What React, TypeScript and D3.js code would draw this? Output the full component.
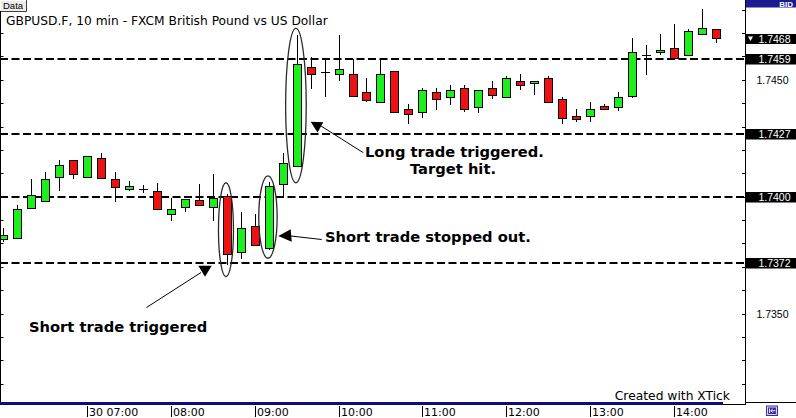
import React from "react";
import * as d3 from "d3";

// ---- data (10-minute candles, 30th 06:00 .. 14:30) ----
const startTime = new Date(2009, 0, 30, 6, 0);
const stepMinutes = 10;

const opens = [
  1.73821, 1.73824, 1.73955, 1.73985, 1.74085, 1.74158, 1.74085, 1.74166, 1.74077, 1.74036,
  1.74036, 1.74025, 1.73928, 1.73957, 1.73987, 1.73957, 1.74007, 1.73764, 1.73876, 1.73784,
  1.74055, 1.74135, 1.74558, 1.74537, 1.74526, 1.74527, 1.7445, 1.74406, 1.74538, 1.74376,
  1.74366, 1.74449, 1.74427, 1.74466, 1.74387, 1.74466, 1.74427, 1.74496, 1.74487, 1.74508,
  1.74419, 1.74346, 1.74346, 1.74389, 1.74387, 1.74434, 1.74608, 1.7462, 1.74637, 1.74607,
  1.74697, 1.74718,
];
const highs = [
  1.73868, 1.73967, 1.74077, 1.74108, 1.74159, 1.74158, 1.74175, 1.74188, 1.74108, 1.74068,
  1.74051, 1.7406, 1.73995, 1.73994, 1.74056, 1.74099, 1.74014, 1.73938, 1.73928, 1.74065,
  1.74188, 1.74694, 1.74598, 1.7459, 1.74694, 1.7459, 1.74508, 1.7459, 1.74538, 1.74398,
  1.74466, 1.74466, 1.74478, 1.74478, 1.74457, 1.74496, 1.74518, 1.74527, 1.74496, 1.74518,
  1.74427, 1.74376, 1.74406, 1.74397, 1.74449, 1.74679, 1.7465, 1.74698, 1.74741, 1.74718,
  1.74805, 1.74718,
];
const lows = [
  1.73809, 1.73824, 1.73955, 1.7398, 1.74028, 1.74079, 1.74085, 1.74079, 1.7398, 1.74028,
  1.74019, 1.73948, 1.739, 1.73937, 1.73965, 1.739, 1.7371, 1.73736, 1.73794, 1.73774,
  1.74002, 1.74135, 1.74461, 1.7443, 1.74498, 1.74433, 1.74408, 1.74406, 1.74366, 1.74312,
  1.7434, 1.74373, 1.74393, 1.74364, 1.74361, 1.74421, 1.74427, 1.7446, 1.74438, 1.74406,
  1.74312, 1.7432, 1.7432, 1.74376, 1.7437, 1.74423, 1.74521, 1.74609, 1.74597, 1.74607,
  1.74697, 1.74661,
];
const closes = [
  1.73838, 1.73948, 1.74008, 1.74077, 1.74136, 1.74098, 1.74175, 1.74083, 1.74045, 1.74047,
  1.74036, 1.73948, 1.73948, 1.73994, 1.73965, 1.73997, 1.73756, 1.73867, 1.73794, 1.74046,
  1.74145, 1.7457, 1.74526, 1.74537, 1.74547, 1.74433, 1.74416, 1.74527, 1.74366, 1.74358,
  1.74457, 1.74419, 1.74457, 1.74376, 1.74457, 1.74436, 1.74508, 1.74478, 1.74496, 1.74406,
  1.74337, 1.74336, 1.74376, 1.74376, 1.74427, 1.7462, 1.74608, 1.74628, 1.74597, 1.7471,
  1.74726, 1.74679,
];

const levelLines = [1.7459, 1.7427, 1.74, 1.7372];
const lastPrice = 1.7468;
const priceTickLabels = [1.745, 1.735];
const priceTicks = d3.range(17320, 17490, 10).map((v) => v / 10000);
const timeTickHours = [7, 8, 9, 10, 11, 12, 13, 14];
const timeTickLabels = ["30 07:00", "08:00", "09:00", "10:00", "11:00", "12:00", "13:00", "14:00"];

// ellipses around key candles: [candle index, top price, bottom price]
const ellipseCandles = [16, 19, 21];
const ellipseTops = [1.74062, 1.74091, 1.74722];
const ellipseBottoms = [1.7366, 1.73739, 1.74062];

const GREEN = "#1def1d";
const RED = "#ee1111";
const NAVY = "#0c0c7c";

export default function App() {
  const W = 796;
  const H = 418;
  const plotRight = 745.5;
  const plotBottom = 402;

  const timeAt = (i: number) => new Date(startTime.getTime() + i * stepMinutes * 60000);
  const x = d3
    .scaleTime()
    .domain([timeAt(0), timeAt(opens.length - 1)])
    .range([2.7, 716.3]);
  const y = d3.scaleLinear().domain([1.7372, 1.7459]).range([262.7, 59.3]);

  const fmt = d3.format(".4f");
  const r5 = (v: number) => Math.round(v - 0.5) + 0.5;

  const candles = opens.map((o, i) => {
    const c = closes[i];
    const cx = Math.round(x(timeAt(i)));
    const yTop = Math.round(y(Math.max(o, c)));
    const yBot = Math.round(y(Math.min(o, c)));
    return { i, o, c, h: highs[i], l: lows[i], cx, yTop, yBot };
  });

  const sans = "'DejaVu Sans', Verdana, sans-serif";
  const arial = "'Liberation Sans', Arial, sans-serif";

  return (
    <svg
      width={W}
      height={H}
      style={{ position: "absolute", left: 0, top: 0, background: "#fff" }}
    >
      <defs>
        <clipPath id="plotClip">
          <rect x={1} y={0} width={plotRight - 1} height={plotBottom} />
        </clipPath>
      </defs>
      <rect x={0} y={0} width={W} height={H} fill="#fff" />

      {/* left ticks */}
      {priceTicks.map((p) => (
        <line key={"lt" + p} x1={0} x2={3.5} y1={r5(y(p))} y2={r5(y(p))} stroke="#000" />
      ))}
      {/* right ticks */}
      {priceTicks.map((p) => (
        <line key={"rt" + p} x1={742} x2={plotRight} y1={r5(y(p))} y2={r5(y(p))} stroke="#000" />
      ))}

      {/* level dashed lines */}
      {levelLines.map((p) => (
        <line
          key={"lv" + p}
          x1={0}
          x2={plotRight}
          y1={Math.round(y(p))}
          y2={Math.round(y(p))}
          stroke="#000"
          strokeWidth={2}
          strokeDasharray="8,3.5"
        />
      ))}

      {/* candles */}
      <g clipPath="url(#plotClip)" shapeRendering="crispEdges">
        {candles.map((d) => (
          <g key={d.i}>
            <line
              x1={d.cx + 0.5}
              x2={d.cx + 0.5}
              y1={Math.round(y(d.h))}
              y2={Math.round(y(d.l))}
              stroke="#000"
            />
            {d.o === d.c ? (
              <line
                x1={d.cx - 4}
                x2={d.cx + 5}
                y1={d.yTop + 0.5}
                y2={d.yTop + 0.5}
                stroke="#000"
              />
            ) : (
              <rect
                x={d.cx - 3.5}
                y={d.yTop + 0.5}
                width={8}
                height={Math.max(1, d.yBot - d.yTop)}
                fill={d.c > d.o ? GREEN : RED}
                stroke="#000"
              />
            )}
          </g>
        ))}
      </g>

      {/* ellipses */}
      {ellipseCandles.map((ci, k) => {
        const yt = y(ellipseTops[k]);
        const yb = y(ellipseBottoms[k]);
        const rx = ci === 21 ? 10.3 : ci === 19 ? 9.2 : 7.5;
        return (
          <ellipse
            key={"el" + ci}
            cx={x(timeAt(ci)) - 0.6}
            cy={(yt + yb) / 2}
            rx={rx}
            ry={(yb - yt) / 2}
            fill="none"
            stroke="#2a2a2a"
            strokeWidth={1.3}
          />
        );
      })}

      {/* annotations */}
      <g fill="#000" stroke="none">
        <line x1={146.5} y1={307.5} x2={201} y2={272.5} stroke="#000" strokeWidth={1} />
        <polygon points="198.3,265.7 211.7,265.7 205,276.7" />
        <line x1={291} y1={236} x2={321.7} y2={239.5} stroke="#000" strokeWidth={1} />
        <polygon points="278.3,236 290.7,229.3 291.7,241.7" />
        <line x1={321} y1={126} x2={363.3} y2={152.7} stroke="#000" strokeWidth={1} />
        <polygon points="310.7,121.7 323.3,122.3 317.5,132.5" />
      </g>
      <g fontFamily={sans} fontWeight="bold" fontSize={14.7} fill="#000">
        <text x={29} y={331.5}>Short trade triggered</text>
        <text x={325} y={242.3}>Short trade stopped out.</text>
        <text x={365} y={156.5}>Long trade triggered.</text>
        <text x={410} y={174}>Target hit.</text>
      </g>

      {/* title */}
      <text x={6} y={25} fontFamily={sans} fontSize={12.25} fill="#000">
        GBPUSD.F, 10 min - FXCM British Pound vs US Dollar
      </text>

      {/* Data button */}
      <rect x={0} y={0} width={26.5} height={11} fill="#ececec" />
      <path d="M0.5,10.5 V0.5 H26" stroke="#fff" fill="none" />
      <path d="M0.5,11.5 H26.5 V0" stroke="#404040" fill="none" />
      <text x={3} y={9.3} fontFamily={arial} fontSize={9.5} fill="#000">
        Data
      </text>

      {/* left border */}
      <line x1={0.5} x2={0.5} y1={11} y2={plotBottom} stroke="#000" />

      {/* plot right border */}
      <line x1={plotRight} x2={plotRight} y1={0} y2={405} stroke="#000" />

      {/* right axis */}
      <rect x={746} y={0} width={50} height={7.5} fill="#1c1c90" />
      <text x={793} y={7} textAnchor="end" fontFamily={arial} fontWeight="bold" fontSize={8} fill="#fff">
        BID
      </text>
      {priceTickLabels.map((p) => (
        <text
          key={"pl" + p}
          x={788.5}
          y={y(p) + 3.8}
          textAnchor="end"
          fontFamily={arial}
          fontSize={10.5}
          fill="#000"
        >
          {fmt(p)}
        </text>
      ))}
      {levelLines.map((p) => (
        <g key={"lb" + p}>
          <rect x={746} y={Math.round(y(p)) - 5} width={50} height={10.5} fill="#000" />
          <text
            x={790.5}
            y={Math.round(y(p)) + 4}
            textAnchor="end"
            fontFamily={arial}
            fontSize={10.5}
            fill="#fff"
          >
            {fmt(p)}
          </text>
        </g>
      ))}
      <g>
        <rect x={746} y={Math.round(y(lastPrice)) - 4} width={50} height={10} fill="#000" />
        <polygon
          points={`748,${Math.round(y(lastPrice)) - 1.5} 753,${Math.round(y(lastPrice)) - 1.5} 750.5,${
            Math.round(y(lastPrice)) + 3
          }`}
          fill="#fff"
        />
        <text
          x={790.5}
          y={Math.round(y(lastPrice)) + 5}
          textAnchor="end"
          fontFamily={arial}
          fontSize={10.5}
          fill="#fff"
        >
          {fmt(lastPrice)}
        </text>
      </g>
      <line x1={746} x2={796} y1={402.5} y2={402.5} stroke="#000" />

      {/* bottom bar */}
      <rect x={0} y={402} width={723} height={3} fill={NAVY} />
      <line x1={723} x2={746} y1={404.5} y2={404.5} stroke="#000" />

      {/* Created with */}
      <text x={730} y={400} textAnchor="end" fontFamily={sans} fontSize={12.3} fill="#000">
        Created with XTick
      </text>

      {/* time axis */}
      {timeTickHours.map((h, k) => {
        const t = new Date(startTime.getTime());
        t.setHours(h, 0, 0, 0);
        const tx = Math.round(x(t)) + 0.5;
        return (
          <g key={"tt" + h}>
            <line x1={tx} x2={tx} y1={406} y2={417} stroke="#000" />
            <text x={tx + 1.5} y={415.5} fontFamily={sans} fontSize={11} fill="#000">
              {timeTickLabels[k]}
            </text>
          </g>
        );
      })}

      {/* corner icon */}
      <rect x={766} y={405.5} width={12} height={10.5} fill="#3b2fa8" />
      <rect x={767.5} y={407} width={9} height={7.5} fill="none" stroke="#fff" strokeWidth={0.8} />
      <line x1={769.5} x2={769.5} y1={408.5} y2={413} stroke="#fff" strokeWidth={0.9} />
      <path d="M775.5,410.75 H770.8 M772.6,409 L770.8,410.75 L772.6,412.5" stroke="#fff" strokeWidth={0.9} fill="none" />
    </svg>
  );
}
